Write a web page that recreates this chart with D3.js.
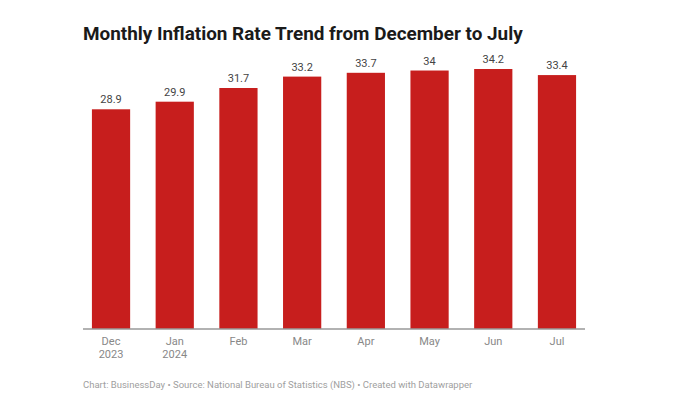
<!DOCTYPE html>
<html>
<head>
<meta charset="utf-8">
<script src="https://cdn.jsdelivr.net/npm/d3@7"></script>
<style>
  body { margin: 0; background: #fff; }
  svg text { font-family: Roboto, "Noto Sans", sans-serif; }
</style>
</head>
<body>
<svg id="chart" width="700" height="400"></svg>
<script>
// data
var months = ["Dec", "Jan", "Feb", "Mar", "Apr", "May", "Jun", "Jul"];
var years = ["2023", "2024", "", "", "", "", "", ""];
var rates = [28.9, 29.9, 31.7, 33.2, 33.7, 34, 34.2, 33.4];
var rateLabels = ["28.9", "29.9", "31.7", "33.2", "33.7", "34", "34.2", "33.4"];

var svg = d3.select("#chart");

var x = d3.scaleBand()
  .domain(months)
  .range([83, 585])
  .paddingInner(0.4)
  .paddingOuter(0.14);

var y = d3.scaleLinear()
  .domain([0, 34.2])
  .range([329, 69]);

svg.append("text")
  .attr("x", 83)
  .attr("y", 40)
  .attr("font-size", 18.9)
  .attr("font-weight", "bold")
  .attr("fill", "#1a1a1a")
  .text("Monthly Inflation Rate Trend from December to July");

svg.selectAll("rect.bar")
  .data(rates)
  .enter().append("rect")
  .attr("class", "bar")
  .attr("x", function(d, i) { return x(months[i]); })
  .attr("width", x.bandwidth())
  .attr("y", function(d) { return y(d); })
  .attr("height", function(d) { return y(0) - y(d); })
  .attr("fill", "#c71e1d");

svg.selectAll("text.val")
  .data(rates)
  .enter().append("text")
  .attr("class", "val")
  .attr("x", function(d, i) { return x(months[i]) + x.bandwidth() / 2; })
  .attr("y", function(d) { return y(d) - 6; })
  .attr("text-anchor", "middle")
  .attr("font-size", 11)
  .attr("fill", "#444")
  .text(function(d, i) { return rateLabels[i]; });

// baseline
svg.append("line")
  .attr("x1", 83).attr("x2", 585)
  .attr("y1", y(0)).attr("y2", y(0))
  .attr("stroke", "#999")
  .attr("stroke-width", 1.5);

var xl = svg.selectAll("g.xl")
  .data(months)
  .enter().append("text")
  .attr("class", "xl")
  .attr("text-anchor", "middle")
  .attr("font-size", 11)
  .attr("fill", "#888");
xl.append("tspan")
  .attr("x", function(d) { return x(d) + x.bandwidth() / 2; })
  .attr("y", 345)
  .text(function(d) { return d; });
xl.append("tspan")
  .attr("x", function(d) { return x(d) + x.bandwidth() / 2; })
  .attr("y", 358)
  .text(function(d, i) { return years[i]; });

svg.append("text")
  .attr("x", 83)
  .attr("y", 388)
  .attr("font-size", 9.5)
  .attr("fill", "#a0a0a0")
  .text("Chart: BusinessDay \u2022 Source: National Bureau of Statistics (NBS) \u2022 Created with Datawrapper");
</script>
</body>
</html>
